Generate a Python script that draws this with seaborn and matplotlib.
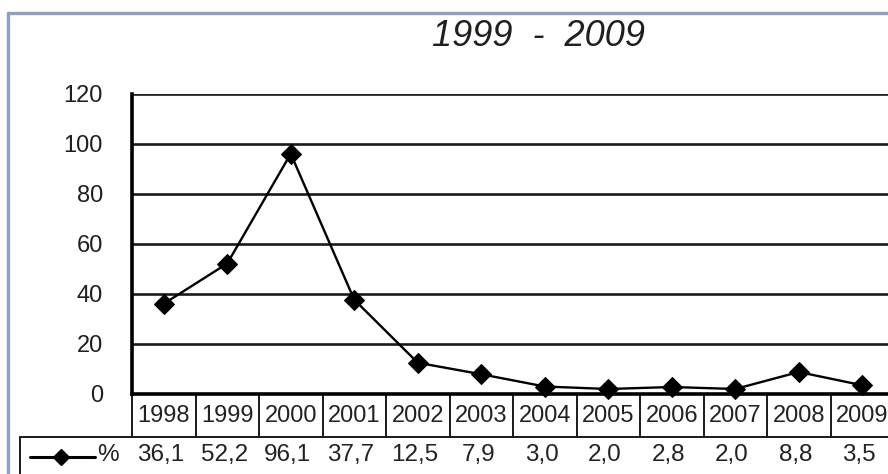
import numpy as np
import pandas as pd
import matplotlib
matplotlib.use("Agg")
import matplotlib.pyplot as plt
import matplotlib.transforms as mtransforms
from matplotlib.lines import Line2D
import seaborn as sns

# Annual percentage values shown in the chart and its data table
years = ["1998", "1999", "2000", "2001", "2002", "2003",
         "2004", "2005", "2006", "2007", "2008", "2009"]
percent = [36.1, 52.2, 96.1, 37.7, 12.5, 7.9, 3.0, 2.0, 2.8, 2.0, 8.8, 3.5]
y_ticks = [0, 20, 40, 60, 80, 100, 120]
title = "1999  -  2009"
series_name = "%"

sns.set_theme(style="white")
plt.rcParams["font.family"] = ["Liberation Sans", "DejaVu Sans"]

W, H = 888, 474
fig = plt.figure(figsize=(W / 100, H / 100), dpi=100)
fig.patch.set_facecolor("white")


def fy(py):
    """Pixel row (from top) to figure fraction."""
    return 1 - py / H


def fx(px):
    return px / W


# Plot area: columns 63.5 px wide starting at x=132, y from 0 (row 394) to 120 (row 94)
left, right = 132, 132 + 12 * 63.5
top, bottom = 94, 394
ax = fig.add_axes([fx(left), fy(bottom), fx(right - left), (bottom - top) / H])
ax.set_facecolor("white")

df = pd.DataFrame({"pos": np.arange(len(years)), "value": percent})
sns.lineplot(data=df, x="pos", y="value", ax=ax, color="black", linewidth=1.7,
             marker="D", markersize=10, markeredgecolor="black",
             markerfacecolor="black", clip_on=False, zorder=5)

ax.set_xlim(-0.5, len(years) - 0.5)
ax.set_ylim(0, 120)
ax.set_yticks(y_ticks)
ax.set_xticks([])
ax.set_xlabel("")
ax.set_ylabel("")
ax.yaxis.grid(True, color="#1a1a1a", linewidth=1.9)
ax.set_axisbelow(True)
for side in ("top", "right"):
    ax.spines[side].set_visible(False)
for side in ("left", "bottom"):
    ax.spines[side].set_color("black")
    ax.spines[side].set_linewidth(2.6)
ax.tick_params(axis="y", direction="out", length=7, width=2, color="black",
               labelsize=17, pad=14, labelcolor="#1f1f1f")
for lbl in ax.get_yticklabels():
    lbl.set_fontfamily(["Liberation Sans", "DejaVu Sans"])

# Data table under the plot
bt = mtransforms.blended_transform_factory(ax.transData, fig.transFigure)
row_top, row_mid, row_bot = 394, 437, 480
table_kw = dict(color="#1a1a1a", linewidth=1.4, clip_on=False)
for b in np.arange(len(years) + 1) - 0.5:
    ax.add_line(Line2D([b, b], [fy(row_top), fy(row_mid)], transform=bt, **table_kw))
fig.add_artist(Line2D([fx(20), 1], [fy(row_mid), fy(row_mid)], color="#1a1a1a", linewidth=1.4))
fig.add_artist(Line2D([fx(20), fx(20)], [fy(row_mid), fy(row_bot)], color="#1a1a1a", linewidth=1.4))

for i, (yr, v) in enumerate(zip(years, percent)):
    ax.text(i, fy(416), yr, transform=bt, ha="center", va="center",
            fontsize=17, color="#222222", clip_on=False)
    ax.text(i - 0.05, fy(455), f"{v:.1f}".replace(".", ","), transform=bt,
            ha="center", va="center", fontsize=17.5, color="#222222", clip_on=False)

# Legend key in the value row
fig.add_artist(Line2D([fx(30), fx(95)], [fy(457), fy(457)], color="black", linewidth=2.2))
fig.add_artist(Line2D([fx(61)], [fy(457)], color="black", marker="D", markersize=8,
                      linestyle="none"))
fig.text(fx(97), fy(455), series_name, ha="left", va="center", fontsize=17.5, color="#222222")

# Title
fig.text(fx(539), fy(36), title, ha="center", va="center", fontsize=26,
         style="italic", color="#1f1f1f")

# Outer chart frame
frame_col = "#8aa0c4"
fig.add_artist(Line2D([fx(8), 1], [fy(13), fy(13)], color=frame_col, linewidth=2.4))
fig.add_artist(Line2D([fx(8), fx(8)], [fy(13), 0], color=frame_col, linewidth=2.4))

fig.savefig("out.png", dpi=100, facecolor="white")
